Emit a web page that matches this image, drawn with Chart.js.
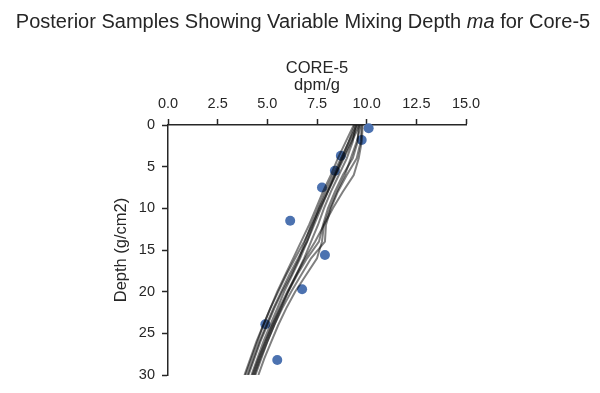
<!DOCTYPE html>
<html>
<head>
<meta charset="utf-8">
<script src="https://cdn.jsdelivr.net/npm/chart.js@4/dist/chart.umd.min.js"></script>
<style>
  html, body { margin: 0; padding: 0; background: #fff; }
  #wrap { width: 600px; height: 393px; }
</style>
</head>
<body>
<div id="wrap"><canvas id="coreChart"></canvas></div>
<script>
// depth grid shared by the posterior sample curves
const depths = [0, 2, 4, 6, 8, 10, 12, 14, 16, 18, 20, 22, 24, 26, 28, 30];

// posterior sample profiles (dpm/g at each depth)
const sample1 = [9.65, 9.25, 8.85, 8.45, 8.05, 7.65, 7.25, 6.85, 6.4, 5.95, 5.55, 5.15, 4.8, 4.45, 4.15, 3.85];
const sample2 = [9.35, 8.95, 8.55, 8.2, 7.8, 7.45, 7.1, 6.7, 6.3, 5.9, 5.5, 5.15, 4.8, 4.5, 4.2, 3.9];
const sample3 = [9.5, 9.1, 8.75, 8.4, 8.05, 7.7, 7.35, 7.0, 6.65, 6.25, 5.85, 5.5, 5.15, 4.8, 4.5, 4.2];
const sample4 = [9.75, 9.7, 9.5, 9.0, 8.55, 8.2, 7.95, 7.9, 7.2, 6.7, 6.2, 5.75, 5.35, 5.0, 4.65, 4.35];
const sample5 = [9.6, 9.55, 9.3, 8.8, 8.4, 8.05, 7.8, 7.6, 7.0, 6.5, 6.05, 5.65, 5.25, 4.9, 4.55, 4.25];
const sample6 = [9.8, 9.75, 9.6, 9.35, 8.8, 8.3, 7.85, 7.4, 6.9, 6.45, 6.0, 5.6, 5.25, 4.9, 4.6, 4.3];
const sample7 = [9.45, 9.3, 9.0, 8.6, 8.2, 7.85, 7.55, 7.2, 6.85, 6.45, 6.05, 5.7, 5.35, 5.0, 4.7, 4.4];
const sample8 = [9.55, 9.2, 8.8, 8.4, 8.0, 7.6, 7.3, 7.0, 6.55, 6.1, 5.7, 5.3, 4.95, 4.6, 4.3, 4.0];
const sample9 = [9.7, 9.5, 9.2, 8.9, 8.5, 8.15, 7.85, 7.75, 7.5, 6.95, 6.4, 5.95, 5.55, 5.2, 4.85, 4.55];
const sample10 = [9.4, 9.1, 8.7, 8.3, 7.9, 7.55, 7.2, 6.9, 6.6, 6.2, 5.75, 5.35, 5.0, 4.65, 4.35, 4.05];
const samples = [sample1, sample2, sample3, sample4, sample5, sample6, sample7, sample8, sample9, sample10];

// measured activity
const obsActivity = [10.1, 9.75, 8.7, 8.4, 7.75, 6.15, 7.9, 6.75, 4.9, 5.5];
const obsDepth = [0.4, 1.8, 3.7, 5.5, 7.5, 11.5, 15.6, 19.7, 23.9, 28.2];

const xTicks = [0, 2.5, 5, 7.5, 10, 12.5, 15];
const yTicks = [0, 5, 10, 15, 20, 25, 30];

const ink = '#262626';
const fontFamily = '"Liberation Sans", Arial, sans-serif';

const lineSets = samples.map(vals => ({
  data: vals.map((v, i) => ({ x: v, y: depths[i] })),
  showLine: true,
  borderColor: 'rgba(0,0,0,0.5)',
  borderWidth: 2,
  pointRadius: 0,
  tension: 0,
  order: 0
}));

const pointSet = {
  data: obsActivity.map((v, i) => ({ x: v, y: obsDepth[i] })),
  backgroundColor: '#4c72b0',
  borderWidth: 0,
  pointRadius: 5,
  clip: false,
  order: 1
};

// suptitle + axes title, drawn as text on the canvas
const titles = {
  id: 'titles',
  afterDraw(chart) {
    const c = chart.ctx;
    const area = chart.chartArea;
    c.save();
    c.fillStyle = ink;
    c.textBaseline = 'middle';
    const parts = [
      ['Posterior Samples Showing Variable Mixing Depth ', 'normal'],
      ['ma', 'italic'],
      [' for Core-5', 'normal']
    ];
    const size = 20;
    let total = 0;
    parts.forEach(p => {
      c.font = p[1] + ' ' + size + 'px ' + fontFamily;
      total += c.measureText(p[0]).width;
    });
    let x = 303 - total / 2;
    c.textAlign = 'left';
    parts.forEach(p => {
      c.font = p[1] + ' ' + size + 'px ' + fontFamily;
      c.fillText(p[0], x, 22);
      x += c.measureText(p[0]).width;
    });
    c.textAlign = 'center';
    c.font = '16.5px ' + fontFamily;
    c.fillText('CORE-5', (area.left + area.right) / 2, 68);
    c.restore();
  }
};

new Chart(document.getElementById('coreChart'), {
  type: 'scatter',
  data: { datasets: [...lineSets, pointSet] },
  options: {
    responsive: true,
    maintainAspectRatio: false,
    animation: false,
    layout: { padding: { left: 110, top: 73, right: 134, bottom: 18 } },
    plugins: { legend: { display: false }, tooltip: { enabled: false } },
    scales: {
      x: {
        type: 'linear',
        position: 'top',
        min: 0,
        max: 15,
        afterBuildTicks: s => { s.ticks = xTicks.map(v => ({ value: v })); },
        afterFit: s => { s.height = 125 - 73; },
        ticks: {
          color: ink,
          padding: 6,
          maxRotation: 0,
          font: { size: 14.5, family: fontFamily },
          callback: v => v.toFixed(1)
        },
        grid: { drawOnChartArea: false, tickLength: 6, tickWidth: 1.5, color: ink },
        border: { color: ink, width: 1.5 },
        title: {
          display: true,
          text: 'dpm/g',
          color: ink,
          padding: { top: 3, bottom: 0 },
          font: { size: 16.5, family: fontFamily }
        }
      },
      y: {
        type: 'linear',
        reverse: true,
        min: 0,
        max: 30,
        afterBuildTicks: s => { s.ticks = yTicks.map(v => ({ value: v })); },
        afterFit: s => { s.width = 168 - 110; },
        ticks: {
          color: ink,
          padding: 7,
          font: { size: 14.5, family: fontFamily }
        },
        grid: { drawOnChartArea: false, tickLength: 6, tickWidth: 1.5, color: ink },
        border: { color: ink, width: 1.5 },
        title: {
          display: true,
          text: 'Depth (g/cm2)',
          color: ink,
          padding: { top: 2, bottom: 0 },
          font: { size: 16.5, family: fontFamily }
        }
      }
    }
  },
  plugins: [titles]
});
</script>
</body>
</html>
